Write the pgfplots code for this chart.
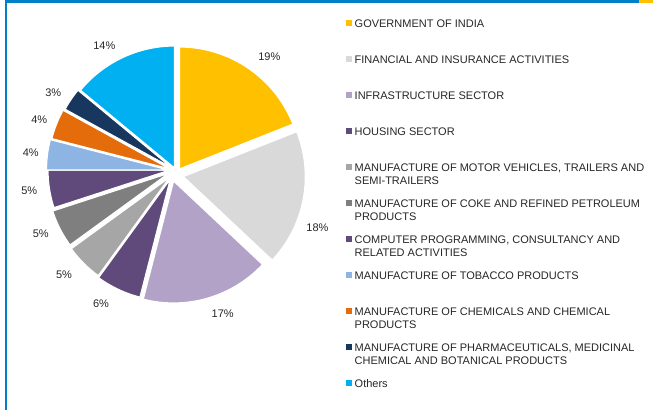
\documentclass[border=0pt]{standalone}
\usepackage{pgfplots}
\usepackage{pgfplotstable}
\pgfplotsset{compat=1.18}
\usepackage{fontspec}
\setmainfont{Liberation Sans}

\definecolor{c0}{HTML}{FFC000}
\definecolor{c1}{HTML}{D9D9D9}
\definecolor{c2}{HTML}{B3A2C7}
\definecolor{c3}{HTML}{604A7B}
\definecolor{c4}{HTML}{A6A6A6}
\definecolor{c5}{HTML}{7F7F7F}
\definecolor{c6}{HTML}{604A7B}
\definecolor{c7}{HTML}{8EB4E3}
\definecolor{c8}{HTML}{E46C0A}
\definecolor{c9}{HTML}{17375E}
\definecolor{c10}{HTML}{00B0F0}
\definecolor{frameblue}{HTML}{0080C6}
\definecolor{frameyellow}{HTML}{FFC000}
\definecolor{txt}{HTML}{262626}

\newcommand\lab{\fontsize{11bp}{13bp}\selectfont}

% share (%), slice tip and label centre (px, measured from top-left of the picture)
\pgfplotstableread{
share tipx tipy labx laby
19 179.5 169.0 269.3  56.7
18 183.3 176.6 317.5 228.0
17 173.6 181.0 222.7 314.0
6  170.3 179.0 101.0 303.3
5  170.0 177.0  64.0 275.0
5  168.7 173.3  40.7 234.0
5  170.0 170.0  29.3 190.7
4  168.5 170.0  30.7 152.3
4  170.0 169.0  39.3 120.0
3  172.0 168.0  53.3  92.3
14 174.5 168.0 104.3  46.0
}\piedata

\def\R{122}

\begin{document}
\begin{tikzpicture}
\begin{axis}[
  width=653bp, height=410bp, scale only axis,
  xmin=0, xmax=653, ymin=0, ymax=410,
  hide axis, clip=false,
  legend style={at={(axis cs:346,392)}, anchor=north west,
    draw=none, fill=none, inner sep=0pt, row sep=0pt, column sep=0pt,
    nodes={inner xsep=3bp, inner ysep=0pt, text height=9bp, text depth=27bp,
           font=\lab, text=txt},
    cells={anchor=base west}},
  legend image code/.code={\fill[#1,draw=none] (0bp,1.3bp) rectangle (5.5bp,6.8bp);},
]
\path (rel axis cs:0,0) rectangle (rel axis cs:1,1);

\def\cum{0}
\pgfplotsforeachungrouped \i in {0,...,10}{%
  \pgfplotstablegetelem{\i}{share}\of\piedata \let\vv\pgfplotsretval
  \pgfplotstablegetelem{\i}{tipx}\of\piedata \let\tx\pgfplotsretval
  \pgfplotstablegetelem{\i}{tipy}\of\piedata \let\ty\pgfplotsretval
  \pgfplotstablegetelem{\i}{labx}\of\piedata \let\lx\pgfplotsretval
  \pgfplotstablegetelem{\i}{laby}\of\piedata \let\ly\pgfplotsretval
  \pgfmathsetmacro\aa{90-3.6*(\cum+\vv)}%
  \pgfmathsetmacro\bb{90-3.6*\cum}%
  \pgfmathsetmacro\tyy{410-\ty}%
  \pgfmathsetmacro\lyy{410-\ly}%
  \edef\doslice{%
    \noexpand\addplot[fill=c\i, draw=white, line width=1.2bp, line join=round,
      domain=\aa:\bb, samples=60, variable=\noexpand\t]
      ({\tx+\R*cos(\noexpand\t)}, {\tyy+\R*sin(\noexpand\t)}) -- (axis cs:\tx,\tyy) -- cycle;
    \noexpand\node[font=\noexpand\lab, text=txt] at (axis cs:\lx,\lyy) {\vv\noexpand\%};
  }%
  \doslice
  \pgfmathsetmacro\cum{\cum+\vv}%
}

\legend{
  {GOVERNMENT OF INDIA},
  {FINANCIAL AND INSURANCE ACTIVITIES},
  {INFRASTRUCTURE SECTOR},
  {HOUSING SECTOR},
  {\vtop{\hbox{MANUFACTURE OF MOTOR VEHICLES, TRAILERS AND}\hbox{SEMI-TRAILERS}}},
  {\vtop{\hbox{MANUFACTURE OF COKE AND REFINED PETROLEUM}\hbox{PRODUCTS}}},
  {\vtop{\hbox{COMPUTER PROGRAMMING, CONSULTANCY AND}\hbox{RELATED ACTIVITIES}}},
  {MANUFACTURE OF TOBACCO PRODUCTS},
  {\vtop{\hbox{MANUFACTURE OF CHEMICALS AND CHEMICAL}\hbox{PRODUCTS}}},
  {\vtop{\hbox{MANUFACTURE OF PHARMACEUTICALS, MEDICINAL}\hbox{CHEMICAL AND BOTANICAL PRODUCTS}}},
  {Others}
}

% frame decoration of the source slide
\fill[frameblue] (axis cs:6,407) rectangle (axis cs:639,410);
\fill[frameyellow] (axis cs:639,407) rectangle (axis cs:653,410);
\fill[frameblue] (axis cs:5.3,0) rectangle (axis cs:7.3,410);
\end{axis}
\end{tikzpicture}
\end{document}
